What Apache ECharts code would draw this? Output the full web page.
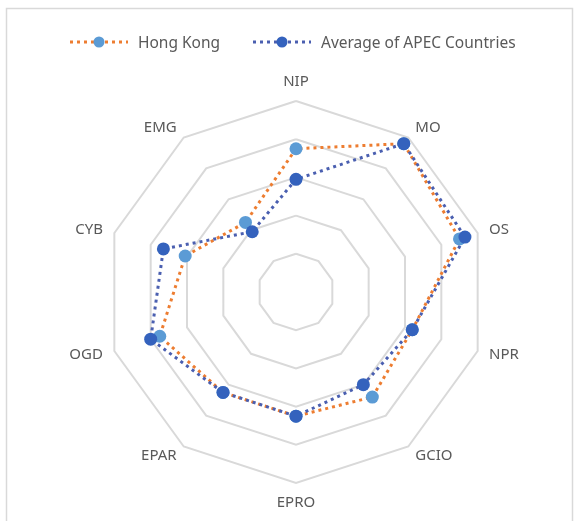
<!DOCTYPE html>
<html>
<head>
<meta charset="utf-8">
<script src="https://cdn.jsdelivr.net/npm/echarts@6/dist/echarts.min.js"></script>
<style>
html,body{margin:0;padding:0;background:#fff;}
#chart{width:579px;height:521px;}
</style>
</head>
<body>
<div id="chart"></div>
<script>
// Indicators in clockwise order starting from the top
var indicators = ["NIP", "MO", "OS", "NPR", "GCIO", "EPRO", "EPAR", "OGD", "CYB", "EMG"];
var seriesNames = ["Hong Kong", "Average of APEC Countries"];
var hongKong = [75, 96, 90, 64, 68, 65, 65, 75, 61, 45];
var apecAverage = [59, 96, 93, 64, 60, 65, 65, 80, 73, 39];
var axisMax = 100;

var lineColors = ['#ED7D31', '#4A5FB0'];
var markerColors = ['#5B9BD5', '#3462BD'];

// ECharts lays radar indicators counter-clockwise; reorder to keep clockwise reading
function ccw(arr) { return [arr[0]].concat(arr.slice(1).reverse()); }

var chart = echarts.init(document.getElementById('chart'));
var font = '"Noto Sans", sans-serif';
var legendLefts = [70, 253];
var iconW = 58, legendY = 42;

var legendCommon = {
  top: 31,
  itemWidth: iconW,
  itemHeight: 12,
  icon: 'rect',
  itemStyle: {opacity: 0},
  textStyle: {color: '#595959', fontSize: 15.5, fontFamily: font}
};

var graphics = [{
  type: 'rect',
  shape: {x: 6.5, y: 8.5, width: 566, height: 530},
  style: {fill: 'none', stroke: '#D9D9D9', lineWidth: 1.5},
  silent: true
}];
legendLefts.forEach(function (lx, i) {
  graphics.push({
    type: 'line',
    z: 1,
    shape: {x1: lx, y1: legendY, x2: lx + iconW, y2: legendY},
    style: {stroke: lineColors[i], lineWidth: 3, lineDash: [3, 4]},
    silent: true
  });
  graphics.push({
    type: 'circle',
    z: 2,
    shape: {cx: lx + iconW / 2, cy: legendY, r: 5.5},
    style: {fill: markerColors[i]},
    silent: true
  });
});

chart.setOption({
  animation: false,
  backgroundColor: '#ffffff',
  graphic: graphics,
  legend: [
    Object.assign({left: legendLefts[0], data: [seriesNames[0]]}, legendCommon),
    Object.assign({left: legendLefts[1], data: [seriesNames[1]]}, legendCommon)
  ],
  radar: {
    center: [296, 292],
    radius: 191,
    startAngle: 90,
    shape: 'polygon',
    splitNumber: 5,
    nameGap: 12,
    axisName: {color: '#595959', fontSize: 15, fontFamily: font},
    axisLine: {show: false},
    axisTick: {show: false},
    axisLabel: {show: false},
    splitArea: {show: false},
    splitLine: {lineStyle: {color: '#D9D9D9', width: 2}},
    indicator: ccw(indicators).map(function (n) { return {name: n, min: 0, max: axisMax}; })
  },
  series: [{
    type: 'radar',
    symbol: 'circle',
    symbolSize: 13,
    data: [{
      name: seriesNames[0],
      value: ccw(hongKong),
      lineStyle: {color: lineColors[0], width: 3, type: [3, 4]},
      itemStyle: {color: markerColors[0]}
    }, {
      name: seriesNames[1],
      value: ccw(apecAverage),
      lineStyle: {color: lineColors[1], width: 3, type: [3, 4]},
      itemStyle: {color: markerColors[1]}
    }]
  }]
});
</script>
</body>
</html>
